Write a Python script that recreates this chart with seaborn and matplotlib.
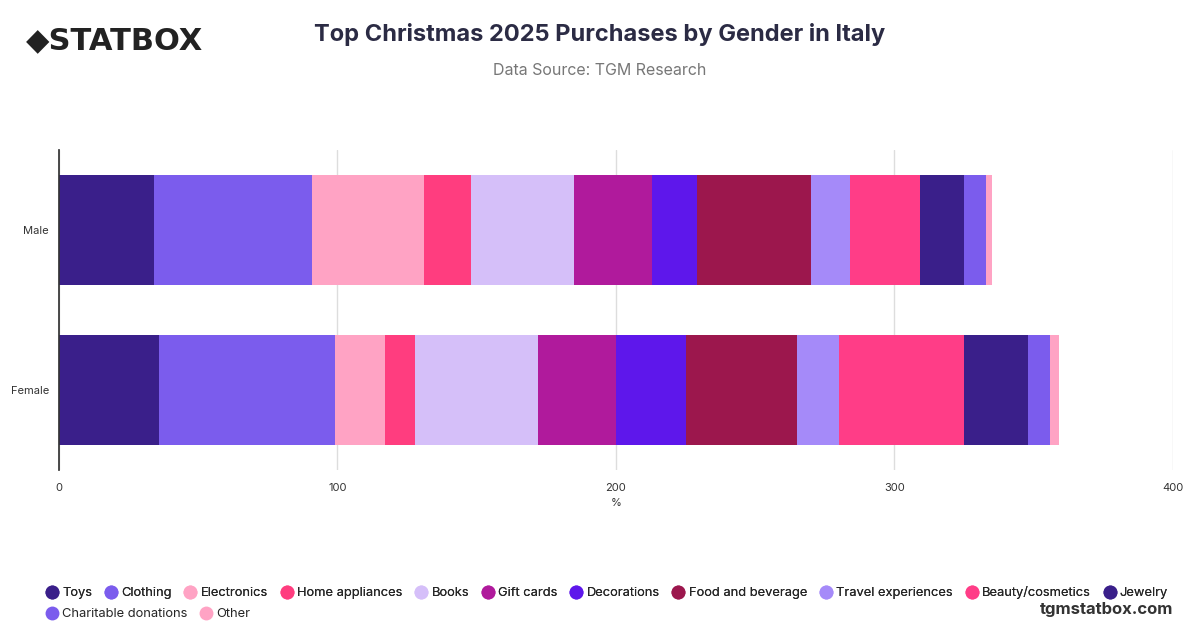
import numpy as np
import matplotlib
matplotlib.use("Agg")
import matplotlib.pyplot as plt
import seaborn as sns
from matplotlib.lines import Line2D

genders = ["Male", "Female"]
categories = ["Toys", "Clothing", "Electronics", "Home appliances", "Books", "Gift cards",
              "Decorations", "Food and beverage", "Travel experiences", "Beauty/cosmetics",
              "Jewelry", "Charitable donations", "Other"]
male = [34, 57, 40, 17, 37, 28, 16, 41, 14, 25, 16, 8, 2]
female = [36, 63, 18, 11, 44, 28, 25, 40, 15, 45, 23, 8, 3]
colors = ["#3a1f8a", "#7b5ced", "#ffa3c4", "#ff3d7f", "#d5bff9", "#b01a9c", "#5e17eb",
          "#9c174d", "#a58af9", "#ff3d87", "#3a1f8a", "#7b5ced", "#ffa3c4"]

sns.set_theme(style="white")
plt.rcParams['font.family'] = ['Inter', 'DejaVu Sans']
fig = plt.figure(figsize=(12, 6.28), dpi=100)
ax = fig.add_axes([0.049, 0.252, 0.9285, 0.509])

y = np.arange(len(genders))
left = np.zeros(len(genders))
for i, c in enumerate(categories):
    vals = np.array([male[i], female[i]])
    ax.barh(y, vals, left=left, height=0.69, color=colors[i], label=c, linewidth=0)
    left += vals

ax.set_ylim(1.5, -0.5)
ax.set_xlim(0, 400)
ax.set_xticks([0, 100, 200, 300, 400])
ax.set_yticks(y)
ax.set_yticklabels(genders, fontsize=8, color="#333333")
ax.tick_params(axis='x', labelsize=8, colors="#333333")
ax.tick_params(axis='y', pad=7, length=0)
ax.grid(axis='x', color="#dddddd", linewidth=1)
ax.set_axisbelow(True)
for s in ["top", "right", "bottom"]:
    ax.spines[s].set_visible(False)
ax.spines["left"].set_color("#333333")
ax.set_xlabel("%", fontsize=8, color="#333333")

fig.text(0.5, 0.935, "Top Christmas 2025 Purchases by Gender in Italy", ha="center",
         fontsize=17, fontweight="bold", color="#2b2b44")
fig.text(0.5, 0.88, "Data Source: TGM Research", ha="center", fontsize=11.5, color="#777777")
fig.text(0.022, 0.935, "◆STATBOX", fontsize=22, fontweight="bold", color="#222222", va="center",
         family=['DejaVu Sans'])
fig.text(0.978, 0.022, "tgmstatbox.com", ha="right", fontsize=12, fontweight="bold", color="#333333")

def handles(idx):
    return [Line2D([0], [0], marker='o', linestyle='', markersize=10, markerfacecolor=colors[i],
                   markeredgewidth=0, label=categories[i]) for i in idx]

l1 = fig.legend(handles=handles(range(11)), loc="upper left", bbox_to_anchor=(0.027, 0.085),
                ncol=11, frameon=False, fontsize=9.3, handletextpad=0.2, columnspacing=0.85,
                handlelength=1.2)
fig.add_artist(l1)
fig.legend(handles=handles(range(11, 13)), loc="upper left", bbox_to_anchor=(0.027, 0.05),
           ncol=2, frameon=False, fontsize=9.3, handletextpad=0.2, columnspacing=0.85,
           handlelength=1.2)

fig.savefig("out.png", dpi=100)
